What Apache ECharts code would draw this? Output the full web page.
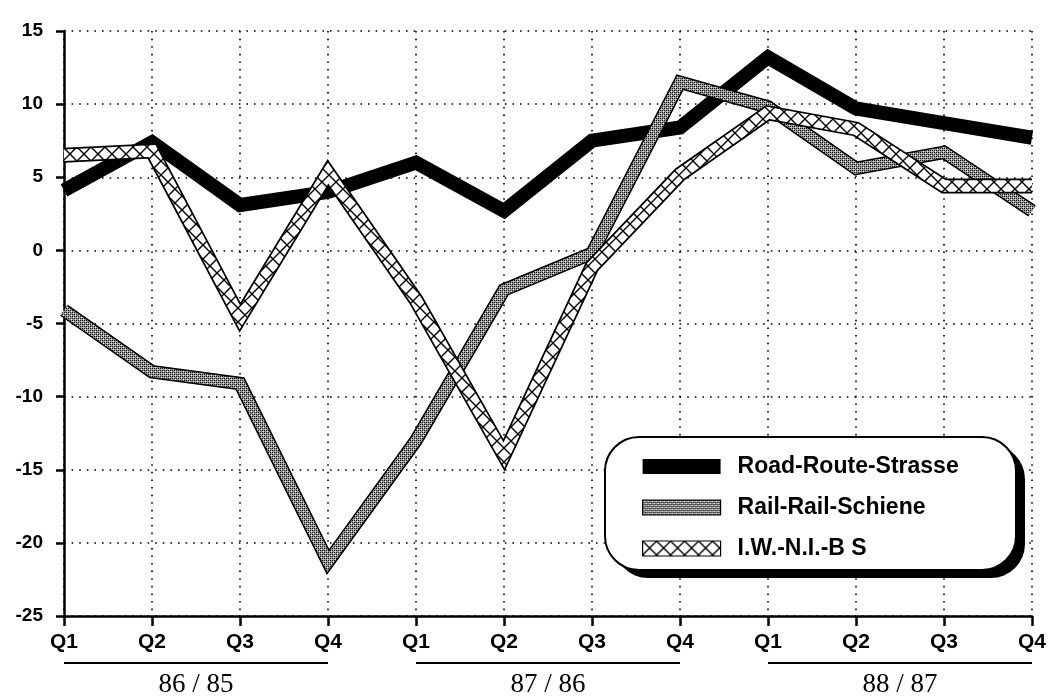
<!DOCTYPE html>
<html><head><meta charset="utf-8">
<script src="https://cdn.jsdelivr.net/npm/echarts@6/dist/echarts.min.js"></script>
<style>html,body{margin:0;padding:0;background:#fff}#c{width:1053px;height:700px}</style>
</head><body><div id="c"></div>
<script>
var categories = ['Q1','Q2','Q3','Q4','Q1','Q2','Q3','Q4','Q1','Q2','Q3','Q4'];
var yearLabels = ['86 / 85','87 / 86','88 / 87'];
var seriesNames = ['Road-Route-Strasse','Rail-Rail-Schiene','I.W.-N.I.-B S'];
var road = [4.1, 7.4, 3.1, 4.0, 6.0, 2.7, 7.5, 8.4, 13.2, 9.7, 8.7, 7.7];
var rail = [-4.1, -8.3, -9.1, -21.3, -13.0, -2.7, -0.2, 11.5, 9.8, 5.6, 6.7, 2.7];
var iww  = [6.5, 6.8, -4.6, 5.3, -3.4, -14.0, -1.1, 5.2, 9.4, 8.3, 4.4, 4.4];

function makeDots(){
  var c = document.createElement('canvas'); c.width = 4; c.height = 4;
  var g = c.getContext('2d');
  g.fillStyle = '#999'; g.fillRect(0,0,4,4);
  g.fillStyle = '#111';
  g.fillRect(0,0,1,1); g.fillRect(2,2,1,1); g.fillRect(2,0,1,1); g.fillRect(0,2,1,1);
  g.fillStyle = '#eee'; g.fillRect(1,1,1,1); g.fillRect(3,3,1,1);
  return c;
}
function makeHatch(){
  var s = 14;
  var c = document.createElement('canvas'); c.width = s; c.height = s;
  var g = c.getContext('2d');
  g.fillStyle = '#fff'; g.fillRect(0,0,s,s);
  g.strokeStyle = '#000'; g.lineWidth = 1.4;
  g.beginPath(); g.moveTo(0,0); g.lineTo(s,s); g.moveTo(s,0); g.lineTo(0,s); g.stroke();
  return c;
}
var dotPattern = {image: makeDots(), repeat: 'repeat'};
var hatchPattern = {image: makeHatch(), repeat: 'repeat'};

var chart = echarts.init(document.getElementById('c'));
var font = 'Liberation Sans, Arial, sans-serif';

function line(name, data, color, width, z){
  return {name: name, type: 'line', data: data, symbol: 'none', z: z,
    lineStyle: {color: color, width: width, join: 'miter', cap: 'butt'},
    itemStyle: {color: color}, silent: true};
}

var option = {
  animation: false,
  grid: {left: 64, right: 21, top: 31, bottom: 84, containLabel: false},
  xAxis: {
    type: 'category', data: categories, boundaryGap: false,
    axisLine: {show: true, onZero: false, lineStyle: {color: '#000', width: 2.5}},
    axisTick: {show: true, length: 10, lineStyle: {color: '#000', width: 2.5}, alignWithLabel: true},
    axisLabel: {color: '#000', fontSize: 21, fontWeight: 'bold', fontFamily: font, margin: 16, interval: 0},
    splitLine: {show: true, lineStyle: {color: '#000', width: 1.6, type: [1.6, 6]}}
  },
  yAxis: {
    type: 'value', min: -25, max: 15, interval: 5,
    axisLine: {show: true, lineStyle: {color: '#000', width: 2.5}},
    axisTick: {show: true, length: 8, lineStyle: {color: '#000', width: 2.5}},
    axisLabel: {color: '#000', fontSize: 19, fontWeight: 'bold', fontFamily: font, margin: 21},
    splitLine: {show: true, lineStyle: {color: '#000', width: 1.6, type: [1.6, 6]}}
  },
  legend: {
    orient: 'vertical', left: 642, top: 455, itemWidth: 78, itemHeight: 15, itemGap: 18,
    z: 20, icon: 'rect', padding: 0,
    textStyle: {color: '#000', fontSize: 23, fontWeight: 'bold', fontFamily: font, lineHeight: 23, padding: [0,0,0,12]},
    data: [
      {name: seriesNames[0], itemStyle: {color: '#000'}},
      {name: seriesNames[1], itemStyle: {color: dotPattern, borderColor: '#000', borderWidth: 1.2}},
      {name: seriesNames[2], itemStyle: {color: hatchPattern, borderColor: '#000', borderWidth: 1.2}}
    ]
  },
  series: [
    line(seriesNames[0], road, '#000', 14, 2),
    line('railBorder', rail, '#000', 13.5, 3),
    line(seriesNames[1], rail, dotPattern, 10.5, 4),
    line('iwwBorder', iww, '#000', 15, 5),
    line(seriesNames[2], iww, hatchPattern, 11.5, 6)
  ]
};
chart.setOption(option);

var y0 = chart.convertToPixel({yAxisIndex: 0}, -25);
var g = [
  {type: 'rect', z: 10, shape: {x: 614, y: 445, width: 411, height: 133, r: 34}, style: {fill: '#000'}},
  {type: 'rect', z: 11, shape: {x: 605, y: 437, width: 411, height: 133, r: 34}, style: {fill: '#fff', stroke: '#000', lineWidth: 2}}
];
for (var k = 0; k < yearLabels.length; k++) {
  var xa = chart.convertToPixel({xAxisIndex: 0}, k * 4);
  var xb = chart.convertToPixel({xAxisIndex: 0}, k * 4 + 3);
  g.push({type: 'line', z: 10, shape: {x1: xa, y1: y0 + 47, x2: xb, y2: y0 + 47}, style: {stroke: '#000', lineWidth: 2}});
  g.push({type: 'text', z: 10, x: (xa + xb) / 2, y: y0 + 69,
    style: {text: yearLabels[k], fill: '#000', font: '27px Liberation Serif, Times New Roman, serif', align: 'center', verticalAlign: 'middle'}});
}
chart.setOption({graphic: g});
</script></body></html>
